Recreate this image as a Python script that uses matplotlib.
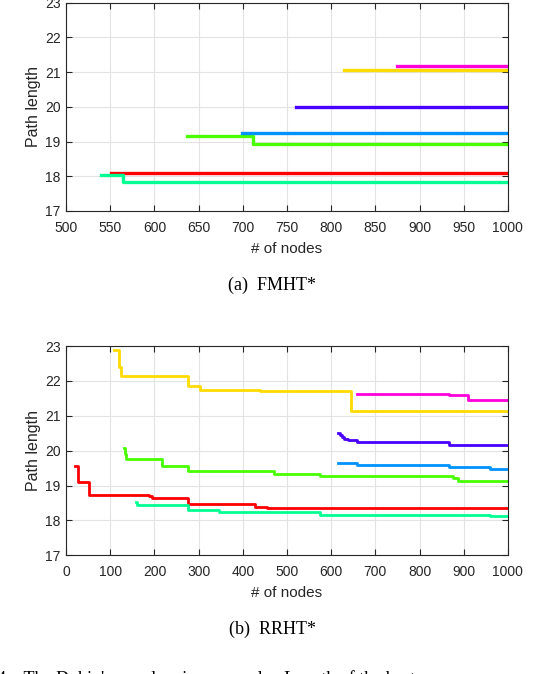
import colorsys
import numpy as np
import matplotlib
matplotlib.use('Agg')
import matplotlib.pyplot as plt

# series order: red, yellow, green, spring green, azure, indigo, magenta
# (a) FMHT*  -- step changes (node count, path length)
fm_x = [
    [551, 1000],
    [815, 1000],
    [637, 712, 1000],
    [539, 564, 1000],
    [699, 1000],
    [760, 1000],
    [875, 1000],
]
fm_y = [
    [18.10, 18.10],
    [21.05, 21.05],
    [19.15, 18.92, 18.92],
    [18.05, 17.82, 17.82],
    [19.26, 19.26],
    [19.99, 19.99],
    [21.19, 21.19],
]

# (b) RRHT*
rr_x = [
    [21, 26, 53, 187, 195, 277, 428, 454, 1000],
    [108, 120, 124, 277, 304, 440, 644, 1000],
    [132, 134, 135, 218, 277, 470, 575, 876, 888, 1000],
    [159, 161, 277, 347, 575, 959, 1000],
    [616, 659, 730, 867, 959, 1000],
    [616, 620, 625, 630, 639, 659, 867, 1000],
    [659, 867, 910, 1000],
]
rr_y = [
    [19.56, 19.10, 18.73, 18.69, 18.64, 18.47, 18.39, 18.37, 18.37],
    [22.89, 22.40, 22.14, 21.85, 21.74, 21.72, 21.14, 21.14],
    [20.09, 19.90, 19.76, 19.56, 19.41, 19.34, 19.29, 19.22, 19.12, 19.12],
    [18.53, 18.45, 18.30, 18.24, 18.17, 18.14, 18.14],
    [19.64, 19.60, 19.58, 19.52, 19.47, 19.47],
    [20.51, 20.46, 20.40, 20.35, 20.30, 20.25, 20.16, 20.16],
    [21.62, 21.60, 21.45, 21.45],
]

colors = [colorsys.hsv_to_rgb(i / 7, 1, 1) for i in range(7)]

plt.rcParams['font.family'] = ['Liberation Sans', 'DejaVu Sans']

fig = plt.figure(figsize=(5.6, 6.74), dpi=100)

def style_axes(ax, xlim, xticks):
    ax.set_xlim(*xlim)
    ax.set_ylim(17, 23)
    ax.set_xticks(xticks)
    ax.set_yticks(range(17, 24))
    ax.grid(True, color='#e3e3e3', linewidth=0.8)
    ax.set_axisbelow(True)
    ax.tick_params(direction='in', top=True, right=True, length=4,
                   labelsize=10, colors='#262626')
    ax.tick_params(axis='x', pad=7)
    ax.tick_params(axis='y', pad=4)
    for s in ax.spines.values():
        s.set_color('#262626')
        s.set_linewidth(0.8)
    ax.set_xlabel('# of nodes', fontsize=11, color='#262626', labelpad=5)
    ax.set_ylabel('Path length', fontsize=11.5, color='#262626', labelpad=3)

ax1 = fig.add_axes([0.118, 0.687, 0.789, 0.309])
for xs, ys, c in zip(fm_x, fm_y, colors):
    ax1.step(xs, ys, where='post', color=c, linewidth=2.4)
style_axes(ax1, (500, 1000), range(500, 1001, 50))

ax2 = fig.add_axes([0.118, 0.176, 0.789, 0.3105])
for xs, ys, c in zip(rr_x, rr_y, colors):
    ax2.step(xs, ys, where='post', color=c, linewidth=2.0)
style_axes(ax2, (0, 1000), range(0, 1001, 100))

serif = ['Liberation Serif', 'DejaVu Serif']
fig.text(0.486, 1 - 285 / 674, '(a)  FMHT*', ha='center', va='center',
         fontsize=13, family=serif)
fig.text(0.486, 1 - 629 / 674, '(b)  RRHT*', ha='center', va='center',
         fontsize=13, family=serif)
fig.text(-0.005, 1 - 684 / 674, "4.   The Dubin's car planning example.  Length of the best",
         ha='left', va='baseline', fontsize=13, family=serif)

fig.savefig('out.png', dpi=100)
